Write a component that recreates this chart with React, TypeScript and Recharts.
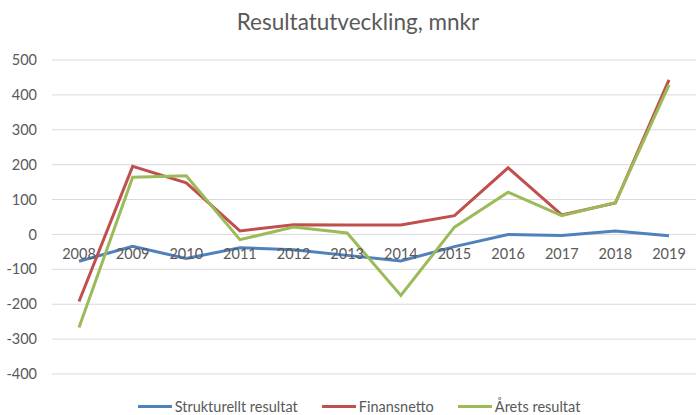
import { LineChart, Line, XAxis, YAxis, CartesianGrid } from 'recharts';

const years = ['2008', '2009', '2010', '2011', '2012', '2013', '2014', '2015', '2016', '2017', '2018', '2019'];
const strukturellt = [-77, -34, -69, -38, -44, -60, -76, -35, 0, -3, 10, -4];
const finansnetto = [-192, 195, 148, 10, 28, 27, 27, 54, 191, 56, 90, 443];
const aretsResultat = [-267, 164, 168, -15, 21, 4, -175, 21, 121, 54, 91, 429];
const yTicks = [-400, -300, -200, -100, 0, 100, 200, 300, 400, 500];

const series = [
  { key: 'strukturellt', name: 'Strukturellt resultat', color: '#4F81BD' },
  { key: 'finansnetto', name: 'Finansnetto', color: '#C0504D' },
  { key: 'arets', name: 'Årets resultat', color: '#9BBB59' },
];

const data = years.map((year, i) => ({
  year,
  strukturellt: strukturellt[i],
  finansnetto: finansnetto[i],
  arets: aretsResultat[i],
}));

const W = 696;
const H = 415;
const TOP = 60;
const BOTTOM = 41;
const Y_MIN = -400;
const Y_MAX = 500;
const PLOT_H = H - TOP - BOTTOM;
const ZERO_Y = TOP + (PLOT_H * Y_MAX) / (Y_MAX - Y_MIN);
const FONT = 'Lato, sans-serif';
const TEXT = '#595959';

// Excel puts the category labels right under the zero line
function YearTick({ x, payload }: any) {
  return (
    <text x={x} y={ZERO_Y + 25} textAnchor="middle" fill={TEXT} fontSize={14.5} fontFamily={FONT}>
      {payload.value}
    </text>
  );
}

export default function App() {
  return (
    <div style={{ position: 'absolute', left: 0, top: 0, width: W, height: H, background: '#fff', fontFamily: FONT }}>
      <div
        style={{
          position: 'absolute',
          top: 8,
          left: 10,
          width: W,
          textAlign: 'center',
          fontSize: 22.5,
          color: TEXT,
        }}
      >
        Resultatutveckling, mnkr
      </div>
      <LineChart width={W} height={H} data={data} margin={{ top: TOP, right: 0, left: 0, bottom: 0 }}>
        <CartesianGrid vertical={false} stroke="#d9d9d9" />
        <XAxis
          dataKey="year"
          height={BOTTOM}
          axisLine={false}
          tickLine={false}
          interval={0}
          padding={{ left: 27, right: 27 }}
          tick={<YearTick />}
        />
        <YAxis
          width={52}
          domain={[Y_MIN, Y_MAX]}
          ticks={yTicks}
          interval={0}
          axisLine={false}
          tickLine={false}
          tickMargin={9}
          tick={{ fill: TEXT, fontSize: 14.5, fontFamily: FONT }}
        />
        {series.map((s) => (
          <Line
            key={s.key}
            type="linear"
            dataKey={s.key}
            name={s.name}
            stroke={s.color}
            strokeWidth={3}
            dot={false}
            isAnimationActive={false}
          />
        ))}
      </LineChart>
      <div
        style={{
          position: 'absolute',
          top: 398,
          left: 11,
          width: W,
          display: 'flex',
          justifyContent: 'center',
          gap: 24,
          fontSize: 14.5,
          color: TEXT,
        }}
      >
        {series.map((s) => (
          <div key={s.key} style={{ display: 'flex', alignItems: 'center' }}>
            <span style={{ display: 'inline-block', width: 34, height: 3, background: s.color, marginRight: 3 }} />
            {s.name}
          </div>
        ))}
      </div>
    </div>
  );
}
